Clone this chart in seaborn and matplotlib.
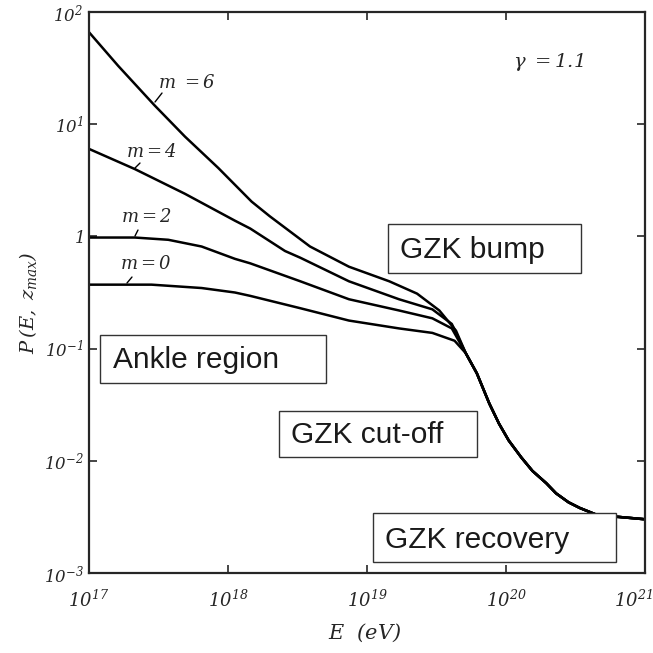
import numpy as np
import pandas as pd
import matplotlib
matplotlib.use("Agg")
import matplotlib.pyplot as plt
from matplotlib.patches import Rectangle
import seaborn as sns

# ---- data (log10 values) ----
logE_m6 = [17.00, 17.21, 17.47, 17.69, 17.93, 18.17, 18.30, 18.59, 18.87, 19.16, 19.36, 19.52, 19.64, 19.71]
logP_m6 = [1.82, 1.52, 1.17, 0.89, 0.61, 0.31, 0.18, -0.09, -0.27, -0.40, -0.51, -0.66, -0.84, -1.04]

logE_m4 = [17.00, 17.33, 17.69, 18.05, 18.16, 18.41, 18.52, 18.87, 19.23, 19.47, 19.61, 19.71]
logP_m4 = [0.78, 0.60, 0.38, 0.14, 0.07, -0.13, -0.19, -0.40, -0.56, -0.65, -0.78, -1.04]

logE_m2 = [17.00, 17.33, 17.57, 17.81, 18.05, 18.16, 18.52, 18.87, 19.23, 19.47, 19.61, 19.71]
logP_m2 = [-0.01, -0.01, -0.03, -0.09, -0.20, -0.24, -0.40, -0.56, -0.66, -0.73, -0.82, -1.04]

logE_m0 = [17.00, 17.45, 17.81, 18.05, 18.16, 18.52, 18.87, 19.23, 19.47, 19.63, 19.71]
logP_m0 = [-0.43, -0.43, -0.46, -0.50, -0.53, -0.64, -0.75, -0.82, -0.86, -0.93, -1.04]

# common GZK tail shared by all curves
logE_tail = [19.79, 19.88, 19.95, 20.02, 20.11, 20.19, 20.29, 20.36, 20.45, 20.53, 20.67, 20.81, 20.99]
logP_tail = [-1.22, -1.49, -1.67, -1.82, -1.97, -2.09, -2.20, -2.29, -2.37, -2.42, -2.49, -2.50, -2.52]

m_values = [0, 2, 4, 6]
x_ticks = [1e17, 1e18, 1e19, 1e20, 1e21]
x_ticklabels = ["$10^{17}$", "$10^{18}$", "$10^{19}$", "$10^{20}$", "$10^{21}$"]
y_ticks = [1e-3, 1e-2, 1e-1, 1, 1e1, 1e2]
y_ticklabels = ["$10^{-3}$", "$10^{-2}$", "$10^{-1}$", "$1$", "$10^{1}$", "$10^{2}$"]
box_texts = ["Ankle region", "GZK bump", "GZK cut-off", "GZK recovery"]

series = {0: (logE_m0, logP_m0), 2: (logE_m2, logP_m2),
          4: (logE_m4, logP_m4), 6: (logE_m6, logP_m6)}
rows = []
for m in m_values:
    le, lp = series[m]
    for a, b in zip(list(le) + logE_tail, list(lp) + logP_tail):
        rows.append({"E": 10 ** a, "P": 10 ** b, "m": m})
df = pd.DataFrame(rows)

# ---- style ----
sns.set_style("ticks")
plt.rcParams["font.family"] = ["DejaVu Serif"]
plt.rcParams["mathtext.fontset"] = "custom"
plt.rcParams["mathtext.rm"] = "DejaVu Serif:italic"
plt.rcParams["mathtext.it"] = "DejaVu Serif:italic"
plt.rcParams["mathtext.default"] = "it"

fig = plt.figure(figsize=(6.53, 6.53), dpi=100)
ax = fig.add_axes([0.1363, 0.1225, 0.8515, 0.8591])

sns.lineplot(data=df, x="E", y="P", hue="m", units="m", estimator=None, sort=False,
             palette=["black"] * 4, linewidth=1.8, legend=False, ax=ax)
for ln in ax.get_lines():
    ln.set_solid_joinstyle("round")

ax.set_xscale("log")
ax.set_yscale("log")
ax.set_xlim(1e17, 1e21)
ax.set_ylim(1e-3, 1e2)
ax.set_xticks(x_ticks)
ax.set_xticklabels(x_ticklabels, fontsize=13)
ax.set_yticks(y_ticks)
ax.set_yticklabels(y_ticklabels, fontsize=12)
ax.minorticks_off()
ax.tick_params(which="both", direction="in", top=True, right=True, length=6, width=1.2)
ax.tick_params(axis="x", pad=24)
ax.tick_params(axis="y", pad=4)
for lab in ax.get_xticklabels():
    lab.set_va("baseline")
xl = ax.get_xticklabels()
xl[-1].set_ha("right")
xl[-1].set_x(1e21)
import matplotlib.transforms as mtrans
xl[-1].set_transform(xl[-1].get_transform() + mtrans.ScaledTranslation(0.08, 0, fig.dpi_scale_trans))
for s in ax.spines.values():
    s.set_linewidth(1.6)
ax.set_xlabel("")
ax.set_ylabel("")

fig.text(0.559, 0.031, r"$E\ \ (eV)$", ha="center", va="center", fontsize=15)
fig.text(0.043, 0.537, r"$P\,(E,\ z_{max})$", ha="center", va="center", fontsize=14, rotation=90)

# curve labels
labels = [("$m\\ =6$", 0.176, 0.873), ("$m=4$", 0.112, 0.750),
          ("$m=2$", 0.104, 0.635), ("$m=0$", 0.102, 0.551)]
for t, x, y in labels:
    ax.text(x, y, t, transform=ax.transAxes, ha="center", va="center", fontsize=13)
pointers = [((0.1187, 0.1313), (0.8396, 0.8556)), ((0.0827, 0.0917), (0.7219, 0.7308)),
            ((0.0827, 0.0881), (0.6007, 0.6114)), ((0.0683, 0.0773), (0.5169, 0.5276))]
for xs, ys in pointers:
    ax.plot(xs, ys, transform=ax.transAxes, color="black", lw=1.0)
ax.text(0.826, 0.911, r"$\gamma\ = 1.1$", transform=ax.transAxes, ha="center", va="center", fontsize=14)

# boxes
boxes = [(0.0198, 0.3387, 0.426, 0.424, 0.0432, 0.3654),
         (0.538, 0.535, 0.885, 0.622, 0.5594, 0.5615),
         (0.342, 0.207, 0.698, 0.289, 0.3633, 0.2317),
         (0.511, 0.0196, 0.948, 0.107, 0.5324, 0.0446)]
for txt, (x0, y0, x1, y1, tx, ty) in zip(box_texts, boxes):
    ax.add_patch(Rectangle((x0, y0), x1 - x0, y1 - y0, transform=ax.transAxes,
                           facecolor="white", edgecolor="#333333", lw=1.0, zorder=5))
    ax.text(tx, ty, txt, transform=ax.transAxes, ha="left", va="baseline",
            fontsize=21.5, family=["Liberation Sans", "DejaVu Sans"], color="#1a1a1a", zorder=6)

fig.savefig("out.png", dpi=100)
